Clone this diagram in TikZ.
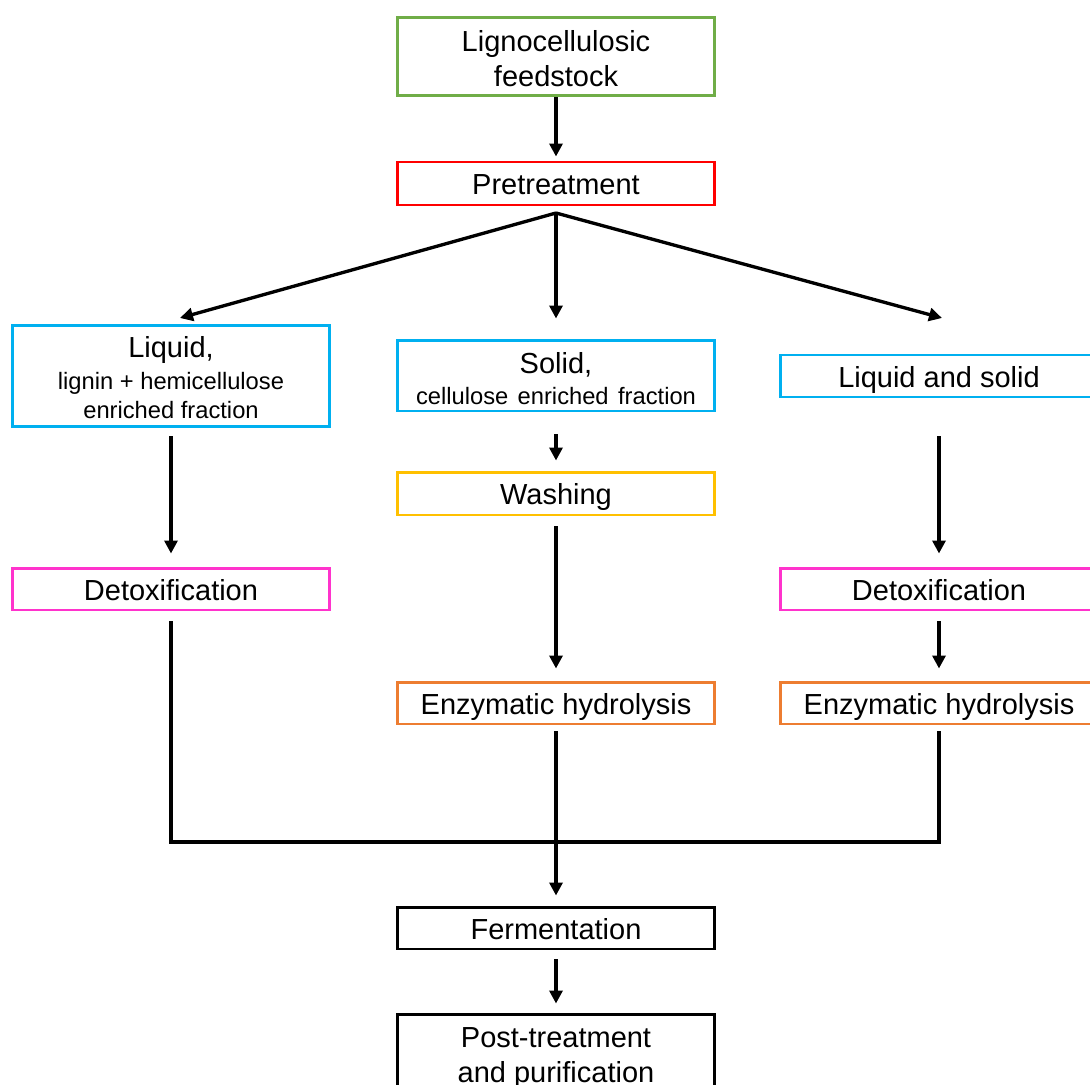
\documentclass[tikz,border=0pt]{standalone}
\usepackage{fontspec}
\setmainfont{Liberation Sans}
\usetikzlibrary{arrows.meta}

\definecolor{feedgreen}{HTML}{70AD47}
\definecolor{pretred}{HTML}{FF0000}
\definecolor{fraccyan}{HTML}{00B0F0}
\definecolor{washgold}{HTML}{FFC000}
\definecolor{detoxpink}{HTML}{FF33CC}
\definecolor{enzorange}{HTML}{ED7D31}

\tikzset{
  stagebox/.style={draw, line width=1.7pt, minimum width=6.36cm, inner sep=0pt,
    align=center, font=\fontsize{16.5}{20}\selectfont},
  oneline/.style={text height=13pt, text depth=0pt},
  flow/.style={line width=1.9pt, -{Triangle[length=0.26cm,width=0.26cm]}},
  joinline/.style={line width=1.9pt}
}
\newcommand{\subtxt}{\fontsize{13.5}{16}\selectfont}
\newcommand{\topstrut}[1]{\rule{0pt}{#1}}

\begin{document}
\begin{tikzpicture}[x=0.02cm, y=-0.02cm]
        \useasboundingbox (0,0) rectangle (1090,1085);

        \begin{scope}[every node/.style={stagebox}]
          \node[draw=feedgreen, minimum height=1.58cm]  (feed)  at (556,56.5) {\topstrut{14pt}Lignocellulosic\\feedstock};
          \node[draw=pretred, minimum height=0.86cm, oneline]   (pre)   at (556,183.5) {Pretreatment};
          \node[draw=fraccyan, minimum height=2.04cm]   (liq)   at (171,376) {\topstrut{14pt}Liquid,\\[-2pt]{\subtxt lignin + hemicellulose}\\[-3pt]{\subtxt enriched fraction}};
          \node[draw=fraccyan, minimum height=1.42cm]   (sol)   at (556,375.5) {\topstrut{15.5pt}Solid,\\[-2pt]{\subtxt cellulose\hspace{0.12em} enriched\hspace{0.12em} fraction}};
          \node[draw=fraccyan, minimum height=0.84cm, oneline]  (both)  at (939,376) {Liquid and solid};
          \node[draw=washgold, minimum height=0.86cm, oneline]  (wash)  at (556,493.5) {Washing};
          \node[draw=detoxpink, minimum height=0.84cm, oneline] (det1)  at (171,589) {Detoxification};
          \node[draw=detoxpink, minimum height=0.84cm, oneline] (det2)  at (939,589) {Detoxification};
          \node[draw=enzorange, minimum height=0.84cm, oneline] (enz1)  at (556,703) {Enzymatic hydrolysis};
          \node[draw=enzorange, minimum height=0.84cm, oneline] (enz2)  at (939,703) {Enzymatic hydrolysis};
          \node[draw=black, minimum height=0.84cm, oneline]     (ferm)  at (556,928) {Fermentation};
          \node[draw=black, minimum height=1.56cm]      (post)  at (556,1053) {\topstrut{17pt}Post-treatment\\and purification};
        \end{scope}

        % split below pretreatment and the merge above fermentation
        \coordinate (split)  at (556,213);
        \coordinate (tipL)   at (180,318);
        \coordinate (tipR)   at (942,318);
        \coordinate (mergeL) at (171,842);
        \coordinate (mergeR) at (939,842);

        \begin{scope}[every edge/.style={draw, flow}]
          \path (feed) edge[shorten >=0.08cm] (pre);
          \path (split) edge (tipL);
          \path (split) edge[shorten >=0.4cm] (sol);
          \path (split) edge (tipR);
          \path (liq)  edge[shorten <=0.16cm, shorten >=0.26cm] (det1);
          \path (sol)  edge[shorten <=0.44cm, shorten >=0.2cm]  (wash);
          \path (wash) edge[shorten <=0.2cm,  shorten >=0.24cm] (enz1);
          \path (both) edge[shorten <=0.76cm, shorten >=0.26cm] (det2);
          \path (det2) edge[shorten <=0.2cm,  shorten >=0.24cm] (enz2);
          \path (enz1) edge[shorten <=0.12cm, shorten >=0.2cm]  (ferm);
          \path (ferm) edge[shorten <=0.18cm, shorten >=0.18cm] (post);
        \end{scope}

        \draw[joinline, shorten <=0.2cm, shorten >=0.12cm] (det1.south) -- (mergeL) -- (mergeR) -- (enz2.south);

      \end{tikzpicture}
\end{document}
